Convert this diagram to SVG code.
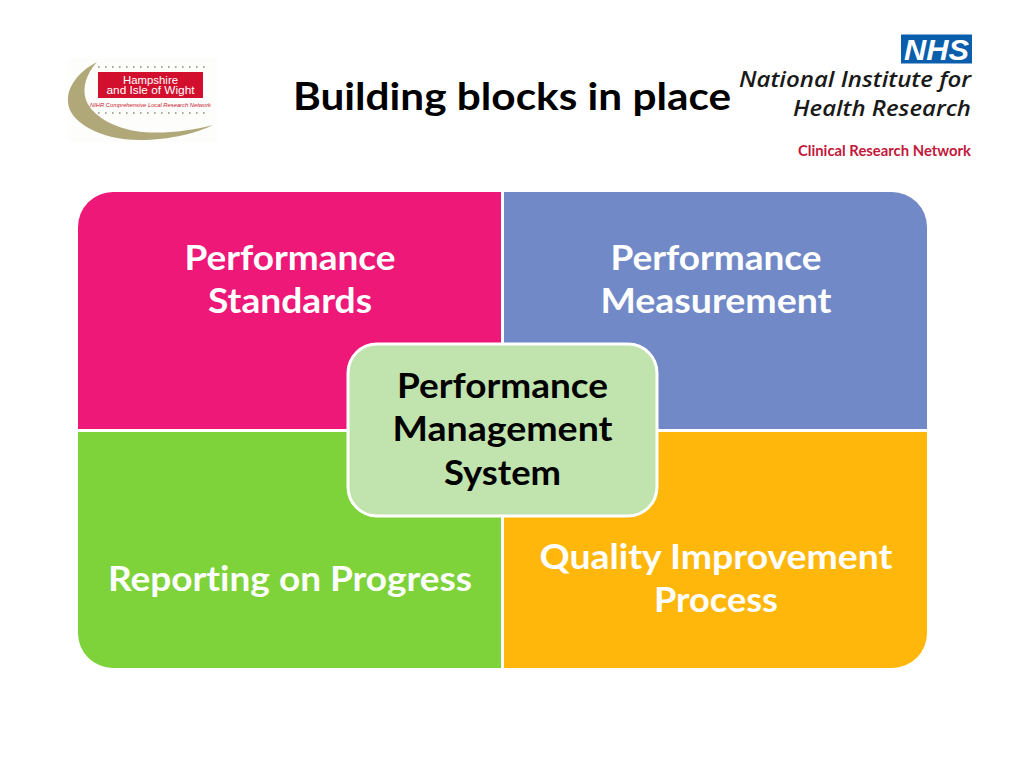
<svg xmlns="http://www.w3.org/2000/svg" width="1024" height="768" viewBox="0 0 1024 768">
<style>
text{font-family:Lato,"Open Sans","Liberation Sans",sans-serif;font-variant-ligatures:none}
.c{font-size:34px;font-weight:700;text-anchor:middle}
.w{fill:#fff}
.k{fill:#000}
.s{font-family:"Liberation Sans",Arial,sans-serif}
.n{font-family:"Open Sans","Liberation Sans",Arial,sans-serif;font-weight:600;font-style:italic;fill:#1a1a1a;font-size:21.500px;text-anchor:end}
.dots{stroke:#8f8f78;stroke-width:1.6;stroke-dasharray:1.6 5.4;fill:none}
</style>
<rect width="1024" height="768" fill="#fff"/>
<g id="logo-hiow">
<rect x="68" y="58" width="150" height="84" fill="#fdfdfb"/>
<path d="M97 62C78 72 67 87 68 102C69 122 100 140 140 140C170 140 197 133 213 125C190 131 165 134 142 132C115 129 92 116 86 100C82 88 86 74 97 62Z" fill="#b0a878"/>
<line class="dots" x1="98" y1="67" x2="206" y2="67"/>
<rect x="98" y="72" width="105" height="26" fill="#d2102e"/>
<text class="s" x="150.500" y="83.500" font-size="11" fill="#fff" text-anchor="middle" textLength="55" lengthAdjust="spacingAndGlyphs">Hampshire</text>
<text class="s" x="150.500" y="94" font-size="11" fill="#fff" text-anchor="middle" textLength="88" lengthAdjust="spacingAndGlyphs">and Isle of Wight</text>
<text class="s" x="150.500" y="107" font-size="6" font-style="italic" fill="#c8202f" text-anchor="middle" textLength="121" lengthAdjust="spacingAndGlyphs">NIHR Comprehensive Local Research Network</text>
<line class="dots" x1="98" y1="113" x2="206" y2="113"/>
</g>
<g id="title"><text x="512" y="110" font-size="38" font-weight="700" text-anchor="middle" fill="#000" textLength="438" lengthAdjust="spacingAndGlyphs">Building blocks in place</text></g>
<g id="logo-nihr">
<rect x="901" y="34.500" width="71" height="29" fill="#0b5eab"/>
<text class="s" x="904" y="59.500" font-size="29" fill="#fff" font-weight="700" font-style="italic" textLength="65" lengthAdjust="spacingAndGlyphs">NHS</text>
<text class="n" x="971" y="87" textLength="232" lengthAdjust="spacingAndGlyphs">National Institute for</text>
<text class="n" x="971" y="116" textLength="178" lengthAdjust="spacingAndGlyphs">Health Research</text>
<text x="971" y="156" font-size="14.500" font-weight="700" fill="#c2183a" text-anchor="end" textLength="173" lengthAdjust="spacingAndGlyphs">Clinical Research Network</text>
</g>
<g id="block-standards">
<path d="M501 192V429H78V227A35 35 0 0 1 113 192Z" fill="#ed1877"/>
<text class="c w" x="290" y="270" textLength="211" lengthAdjust="spacingAndGlyphs">Performance</text>
<text class="c w" x="290" y="313" textLength="164" lengthAdjust="spacingAndGlyphs">Standards</text>
</g>
<g id="block-measurement">
<path d="M504 192H892A35 35 0 0 1 927 227V429H504Z" fill="#7289c8"/>
<text class="c w" x="716" y="270" textLength="211" lengthAdjust="spacingAndGlyphs">Performance</text>
<text class="c w" x="716" y="313" textLength="231" lengthAdjust="spacingAndGlyphs">Measurement</text>
</g>
<g id="block-reporting">
<path d="M78 432H501V668H113A35 35 0 0 1 78 633Z" fill="#7ed23a"/>
<text class="c w" x="290" y="591" textLength="364" lengthAdjust="spacingAndGlyphs">Reporting on Progress</text>
</g>
<g id="block-quality">
<path d="M504 432H927V633A35 35 0 0 1 892 668H504Z" fill="#ffb70b"/>
<text class="c w" x="716" y="569" textLength="353" lengthAdjust="spacingAndGlyphs">Quality Improvement</text>
<text class="c w" x="716" y="612" textLength="124" lengthAdjust="spacingAndGlyphs">Process</text>
</g>
<g id="block-system">
<rect x="348" y="344" width="309" height="172" rx="29" fill="#c1e3ae" stroke="#fff" stroke-width="3"/>
<text class="c k" x="502.500" y="398" textLength="211" lengthAdjust="spacingAndGlyphs">Performance</text>
<text class="c k" x="502.500" y="441" textLength="220" lengthAdjust="spacingAndGlyphs">Management</text>
<text class="c k" x="502.500" y="485" textLength="117" lengthAdjust="spacingAndGlyphs">System</text>
</g>
<g id="connectors"/>
</svg>
